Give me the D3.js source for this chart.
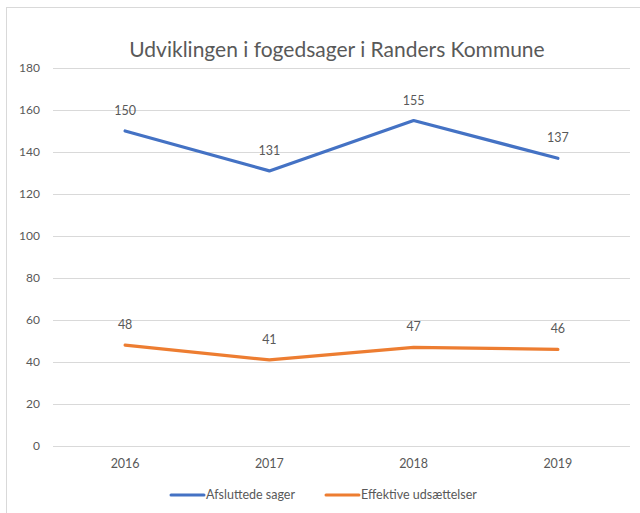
<!DOCTYPE html>
<html>
<head>
<meta charset="utf-8">
<script src="https://cdn.jsdelivr.net/npm/d3@7"></script>
<style>
    body { margin: 0; background: #fff; }
    svg { display: block; }
    text { font-family: Lato, "Open Sans", sans-serif; fill: #595959; }
</style>
</head>
<body>
<div id="chart"></div>
<script>
// chart values
const years = ['2016', '2017', '2018', '2019'];
const afsluttede = [150, 131, 155, 137];
const udsaettelser = [48, 41, 47, 46];
const seriesNames = ['Afsluttede sager', 'Effektive udsættelser'];
const yTicks = [0, 20, 40, 60, 80, 100, 120, 140, 160, 180];
const title = 'Udviklingen i fogedsager i Randers Kommune';

const width = 640;
const height = 513;
const marginTop = 68;
const marginBottom = 67;
const marginLeft = 53;
const marginRight = 10;
const colors = ['#4472C4', '#ED7D31'];

const svg = d3.select('#chart')
    .append('svg')
    .attr('width', width)
    .attr('height', height);

// chart frame
svg.append('rect')
    .attr('x', 6.5).attr('y', 7.5)
    .attr('width', width).attr('height', height)
    .attr('fill', 'none')
    .attr('stroke', '#d9d9d9');

const xScale = d3.scaleBand()
    .domain(years)
    .range([marginLeft, width - marginRight]);

const yScale = d3.scaleLinear()
    .domain([0, 180])
    .range([height - marginBottom, marginTop]);

// Grid lines
const yGrid = d3.axisLeft(yScale)
    .tickValues(yTicks)
    .tickSize(-(width - marginLeft - marginRight))
    .tickFormat('');

svg.append('g')
    .attr('transform', `translate(${marginLeft}, 0)`)
    .call(yGrid)
    .call(g => g.select('.domain').remove())
    .selectAll('line')
    .attr('stroke', '#d9d9d9');

// Y axis labels
const yAxis = d3.axisLeft(yScale)
    .tickValues(yTicks)
    .tickSize(0)
    .tickPadding(13);

svg.append('g')
    .attr('transform', `translate(${marginLeft}, 0)`)
    .call(yAxis)
    .call(g => g.select('.domain').remove())
    .selectAll('text')
    .attr('font-size', 12)
    .style('font-family', 'Lato, sans-serif')
    .attr('fill', '#595959');

// X axis labels
const xAxis = d3.axisBottom(xScale)
    .tickSize(0)
    .tickPadding(13);

svg.append('g')
    .attr('transform', `translate(0, ${height - marginBottom})`)
    .call(xAxis)
    .call(g => g.select('.domain').remove())
    .selectAll('text')
    .attr('font-size', 12.5)
    .style('font-family', 'Lato, sans-serif')
    .attr('fill', '#595959');

// Lines
const line = d3.line()
    .x((d, i) => xScale(years[i]) + xScale.bandwidth() / 2)
    .y(d => yScale(d));

[afsluttede, udsaettelser].forEach((values, k) => {
    svg.append('path')
        .datum(values)
        .attr('fill', 'none')
        .attr('stroke', colors[k])
        .attr('stroke-width', 3.2)
        .attr('stroke-linejoin', 'round')
        .attr('stroke-linecap', 'round')
        .attr('d', line);

    svg.append('g')
        .selectAll('text')
        .data(values)
        .join('text')
        .attr('x', (d, i) => xScale(years[i]) + xScale.bandwidth() / 2)
        .attr('y', d => yScale(d) - 16)
        .attr('text-anchor', 'middle')
        .attr('font-size', 12.5)
        .text(d => d);
});

// Title
svg.append('text')
    .attr('x', 337)
    .attr('y', 57)
    .attr('text-anchor', 'middle')
    .attr('font-size', 21)
    .text(title);

// Legend
const legendX = [171, 326];
const legend = svg.append('g');
seriesNames.forEach((name, k) => {
    legend.append('line')
        .attr('x1', legendX[k]).attr('x2', legendX[k] + 33)
        .attr('y1', 495).attr('y2', 495)
        .attr('stroke', colors[k])
        .attr('stroke-width', 3)
        .attr('stroke-linecap', 'round');
    legend.append('text')
        .attr('x', legendX[k] + 35)
        .attr('y', 499)
        .attr('font-size', 12.5)
        .text(name);
});
</script>
</body>
</html>
